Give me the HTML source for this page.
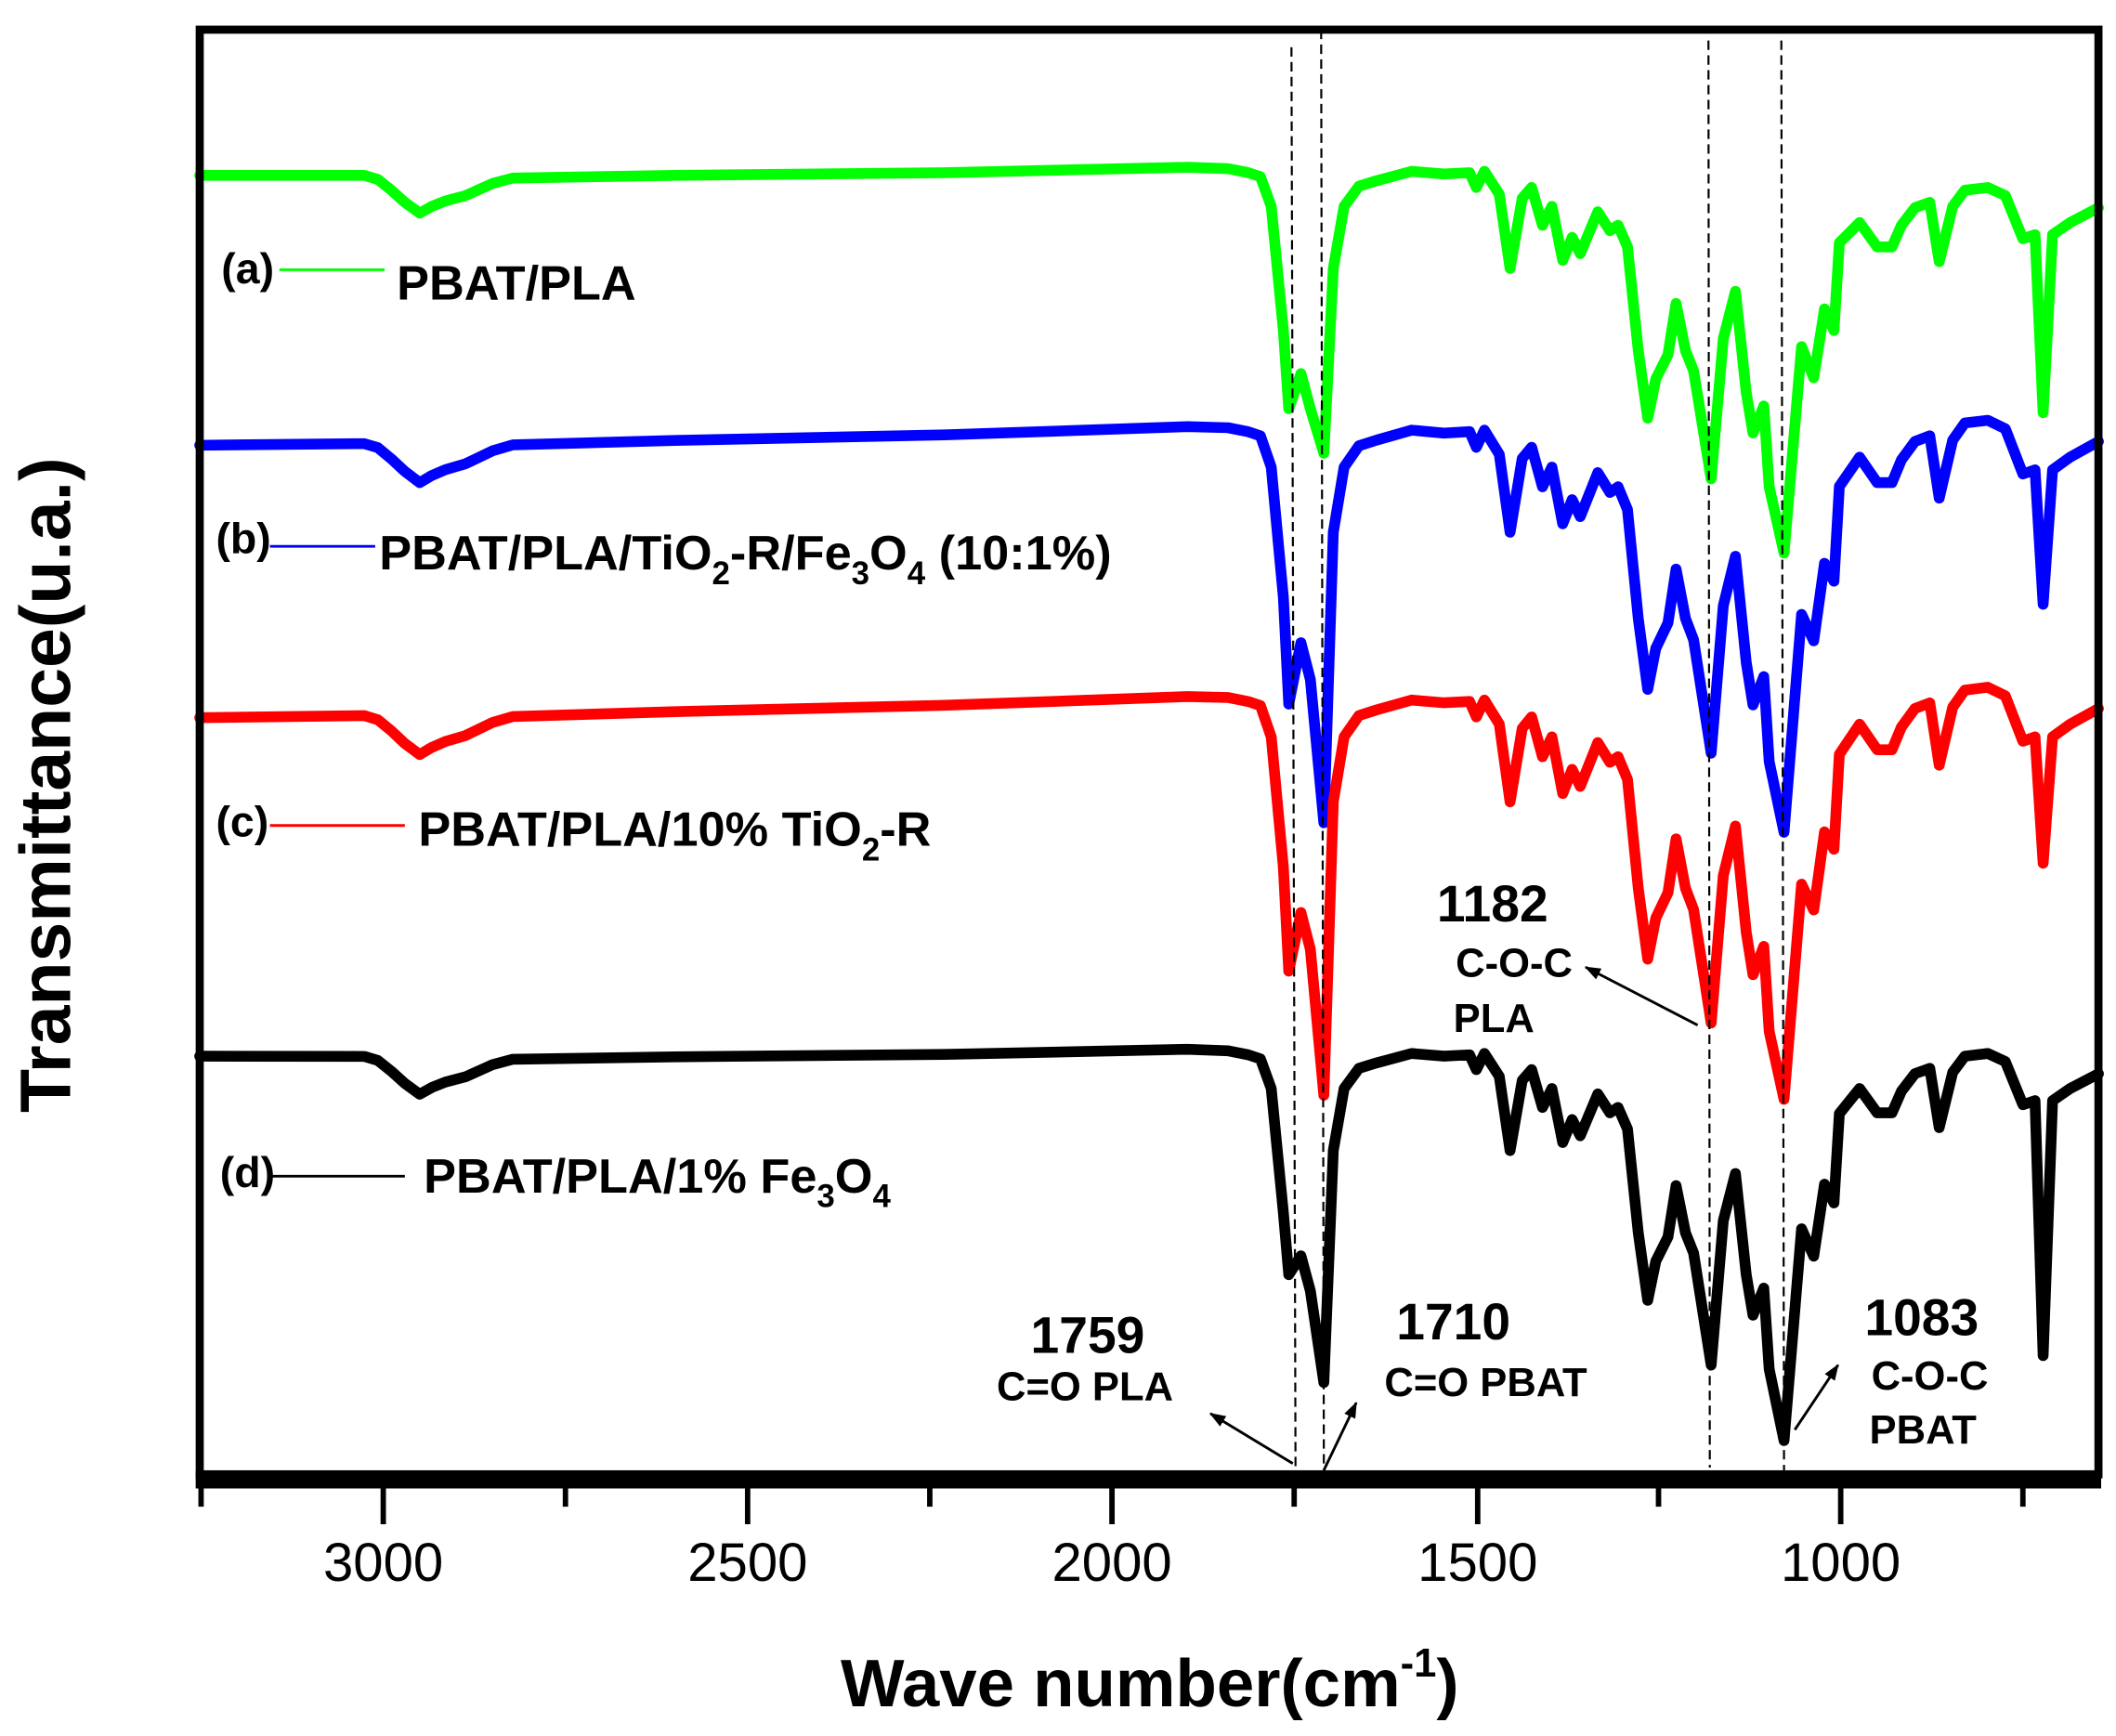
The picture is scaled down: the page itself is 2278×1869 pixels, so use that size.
<!DOCTYPE html>
<html><head><meta charset="utf-8"><style>
html,body{margin:0;padding:0;background:#fff;}
svg{display:block;}
text{font-family:"Liberation Sans",Arial,sans-serif;}
</style></head><body>
<svg id="s" width="2278" height="1869" viewBox="0 0 1568 1287" preserveAspectRatio="none" xmlns="http://www.w3.org/2000/svg">
<rect x="0" y="0" width="1568" height="1287" fill="#fff"/>
<g id="curves"></g>
<g stroke="#000" stroke-width="1.5" stroke-dasharray="7,4" fill="none">
<line x1="957" y1="35" x2="960" y2="1088"/>
<line x1="979" y1="22" x2="981" y2="1090"/>
<line x1="1266" y1="30" x2="1267" y2="1088"/>
<line x1="1320" y1="30" x2="1322" y2="1090"/>
</g>
<rect x="148" y="22" width="1407" height="1071" fill="none" stroke="#000" stroke-width="6"/>
<line x1="145" y1="1097" x2="1557" y2="1097" stroke="#000" stroke-width="13"/>
<g stroke="#000" stroke-width="4">
<line x1="284" y1="1097" x2="284" y2="1130"/><line x1="554" y1="1097" x2="554" y2="1130"/>
<line x1="824" y1="1097" x2="824" y2="1130"/><line x1="1095" y1="1097" x2="1095" y2="1130"/>
<line x1="1364" y1="1097" x2="1364" y2="1130"/>
<line x1="149" y1="1097" x2="149" y2="1117"/><line x1="419" y1="1097" x2="419" y2="1117"/>
<line x1="689" y1="1097" x2="689" y2="1117"/><line x1="959" y1="1097" x2="959" y2="1117"/>
<line x1="1229" y1="1097" x2="1229" y2="1117"/><line x1="1499" y1="1097" x2="1499" y2="1117"/>
</g>
<g font-size="40" text-anchor="middle">
<text x="284" y="1172">3000</text><text x="554" y="1172">2500</text><text x="824" y="1172">2000</text>
<text x="1095" y="1172">1500</text><text x="1364" y="1172">1000</text>
</g>
<text x="852" y="1265" font-size="50" font-weight="bold" text-anchor="middle">Wave number(cm<tspan dy="-22" font-size="30">-1</tspan><tspan dy="22">)</tspan></text>
<text transform="translate(52,582) rotate(-90)" font-size="53" font-weight="bold" text-anchor="middle">Transmittance(u.a.)</text>
<g font-weight="bold">
<text x="164" y="210" font-size="32">(a)</text>
<line x1="207" y1="200" x2="285" y2="200" stroke="#0f0" stroke-width="2"/>
<text x="294" y="222" font-size="36">PBAT/PLA</text>
<text x="160" y="410" font-size="32">(b)</text>
<line x1="200" y1="405" x2="278" y2="405" stroke="#00f" stroke-width="2"/>
<text x="281" y="422" font-size="36">PBAT/PLA/TiO<tspan font-size="24" dy="11">2</tspan><tspan dy="-11">-R/Fe</tspan><tspan font-size="24" dy="11">3</tspan><tspan dy="-11">O</tspan><tspan font-size="24" dy="11">4</tspan><tspan dy="-11"> (10:1%)</tspan></text>
<text x="160" y="620" font-size="32">(c)</text>
<line x1="200" y1="612" x2="300" y2="612" stroke="#f00" stroke-width="2"/>
<text x="310" y="627" font-size="36">PBAT/PLA/10% TiO<tspan font-size="24" dy="11">2</tspan><tspan dy="-11">-R</tspan></text>
<text x="163" y="880" font-size="32">(d)</text>
<line x1="200" y1="872" x2="300" y2="872" stroke="#000" stroke-width="2"/>
<text x="314" y="884" font-size="36">PBAT/PLA/1% Fe<tspan font-size="24" dy="11">3</tspan><tspan dy="-11">O</tspan><tspan font-size="24" dy="11">4</tspan></text>
<g text-anchor="middle">
<text x="806" y="1003" font-size="38">1759</text><text x="804" y="1038" font-size="30">C=O PLA</text>
<text x="1077" y="993" font-size="38">1710</text><text x="1101" y="1035" font-size="30">C=O PBAT</text>
<text x="1106" y="683" font-size="38">1182</text><text x="1122" y="724" font-size="30">C-O-C</text><text x="1107" y="765" font-size="30">PLA</text>
<text x="1424" y="990" font-size="38">1083</text><text x="1430" y="1030" font-size="30">C-O-C</text><text x="1425" y="1070" font-size="30">PBAT</text>
</g>
</g>
<defs><marker id="ar" markerWidth="12" markerHeight="9" refX="11" refY="4.5" orient="auto" markerUnits="userSpaceOnUse" viewBox="0 0 12 9"><path d="M0,0 L12,4.5 L0,9 z" fill="#000"/></marker></defs>
<g stroke="#000" stroke-width="2">
<line x1="958" y1="1085" x2="897" y2="1048" marker-end="url(#ar)"/>
<line x1="981" y1="1090" x2="1005" y2="1040" marker-end="url(#ar)"/>
<line x1="1258" y1="760" x2="1175" y2="717" marker-end="url(#ar)"/>
<line x1="1330" y1="1060" x2="1362" y2="1012" marker-end="url(#ar)"/>
</g>
</svg>
<script>
var G=[[148,130],[270,130],[280,133],[290,141],[300,150],[311,158],[320,153],[330,149],[345,145],[365,136],[380,132],[500,130],[700,128],[880,124],[910,125],[925,128],[934,131],[942,153],[951,245],[955,303],[964,277],[971,303],[981,336],[988,199],[996,153],[1007,138],[1020,134],[1046,127],[1070,129],[1089,128],[1094,139],[1100,127],[1111,144],[1119,199],[1128,147],[1135,139],[1143,167],[1150,153],[1158,193],[1165,176],[1171,188],[1184,157],[1193,171],[1199,167],[1206,183],[1214,260],[1221,310],[1227,281],[1236,263],[1242,225],[1249,260],[1255,275],[1268,355],[1277,251],[1286,216],[1294,291],[1299,321],[1307,301],[1311,361],[1322,410],[1335,257],[1344,280],[1352,229],[1359,245],[1363,180],[1378,165],[1391,183],[1402,183],[1409,167],[1419,154],[1430,150],[1437,194],[1447,153],[1456,141],[1473,139],[1486,145],[1499,177],[1508,174],[1514,306],[1521,174],[1534,165],[1555,154]];
var C=[
 {c:"#00ff00",off:0,k:1,d:6,r:0,ov:{}},
 {c:"#0000ff",off:192,k:1.05,d:14,r:20,ov:{955:522,981:610,1514:448,1322:617}},
 {c:"#ff0000",off:392,k:1.05,d:16,r:22,ov:{955:720,981:812,1514:640,1322:815}},
 {c:"#000000",off:654,k:1.0,d:5,r:12,ov:{955:945,981:1025,1514:1005,1322:1068,1268:1012}}
];
var s="";
C.forEach(function(o){
 var pts=G.map(function(p){
  var x=p[0],y=p[1];
  var yy;
  if(o.ov[x]!==undefined) yy=o.ov[x];
  else {yy=128+o.off+(y-128)*o.k; if(x<930) yy+= (930-x)/(930-148)*(o.d-6);
   if(x>1335) yy-= o.r*Math.min(1,(x-1335)/40);}
  return x+","+yy.toFixed(1);
 });
 s+='<polyline points="'+pts.join(" ")+'" fill="none" stroke="'+o.c+'" stroke-width="8" stroke-linejoin="round" stroke-linecap="round"/>';
});
document.getElementById("curves").innerHTML=s;
</script>
</body></html>
